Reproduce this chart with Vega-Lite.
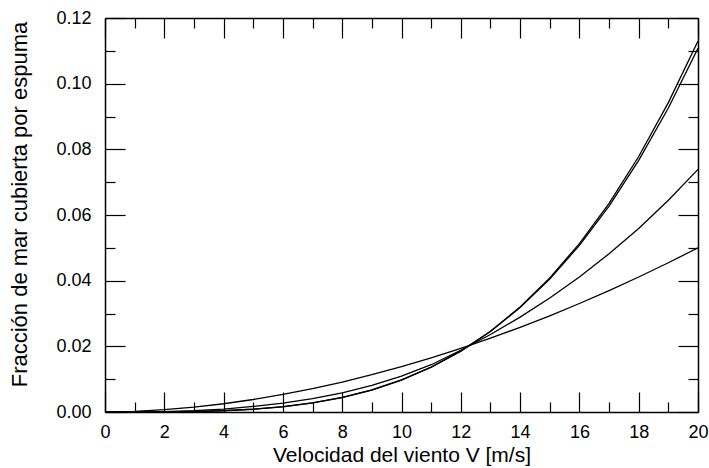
{
  "$schema": "https://vega.github.io/schema/vega-lite/v6.json",
  "width": 593,
  "height": 394,
  "autosize": "none",
  "padding": {"left": 105, "top": 18, "right": 11, "bottom": 56},
  "config": {
    "view": {"stroke": null},
    "font": "Liberation Sans",
    "axis": {
      "domainColor": "black", "domainWidth": 1.5, "tickColor": "black", "tickWidth": 1.2,
      "labelColor": "black", "labelFont": "Liberation Sans", "labelFontSize": 18,
      "titleColor": "black", "titleFont": "Liberation Sans", "titleFontSize": 22, "titleFontWeight": "normal",
      "grid": false
    }
  },
  "data": {"values": [
    {"V":0,"f":0,"c":"A"},{"V":1,"f":0.000003,"c":"A"},{"V":2,"f":0.000033,"c":"A"},{"V":3,"f":0.000137,"c":"A"},{"V":4,"f":0.000379,"c":"A"},{"V":5,"f":0.000835,"c":"A"},{"V":6,"f":0.001592,"c":"A"},{"V":7,"f":0.002749,"c":"A"},{"V":8,"f":0.004408,"c":"A"},{"V":9,"f":0.006691,"c":"A"},{"V":10,"f":0.009717,"c":"A"},{"V":11,"f":0.013618,"c":"A"},{"V":12,"f":0.018525,"c":"A"},{"V":13,"f":0.024592,"c":"A"},{"V":14,"f":0.031967,"c":"A"},{"V":15,"f":0.040809,"c":"A"},{"V":16,"f":0.051295,"c":"A"},{"V":17,"f":0.063566,"c":"A"},{"V":18,"f":0.077815,"c":"A"},{"V":19,"f":0.094235,"c":"A"},{"V":20,"f":0.113,"c":"A"},
    {"V":0,"f":0,"c":"B"},{"V":1,"f":0.000003,"c":"B"},{"V":2,"f":0.000035,"c":"B"},{"V":3,"f":0.000145,"c":"B"},{"V":4,"f":0.000396,"c":"B"},{"V":5,"f":0.000865,"c":"B"},{"V":6,"f":0.001638,"c":"B"},{"V":7,"f":0.002811,"c":"B"},{"V":8,"f":0.004485,"c":"B"},{"V":9,"f":0.006773,"c":"B"},{"V":10,"f":0.009794,"c":"B"},{"V":11,"f":0.013674,"c":"B"},{"V":12,"f":0.01854,"c":"B"},{"V":13,"f":0.024532,"c":"B"},{"V":14,"f":0.031792,"c":"B"},{"V":15,"f":0.040479,"c":"B"},{"V":16,"f":0.050746,"c":"B"},{"V":17,"f":0.062735,"c":"B"},{"V":18,"f":0.076616,"c":"B"},{"V":19,"f":0.092586,"c":"B"},{"V":20,"f":0.1108,"c":"B"},
    {"V":0,"f":0,"c":"C"},{"V":1,"f":0.00002,"c":"C"},{"V":2,"f":0.00013,"c":"C"},{"V":3,"f":0.0004,"c":"C"},{"V":4,"f":0.0009,"c":"C"},{"V":5,"f":0.0017,"c":"C"},{"V":6,"f":0.0027,"c":"C"},{"V":7,"f":0.0041,"c":"C"},{"V":8,"f":0.0058,"c":"C"},{"V":9,"f":0.0081,"c":"C"},{"V":10,"f":0.0109,"c":"C"},{"V":11,"f":0.0144,"c":"C"},{"V":12,"f":0.0188,"c":"C"},{"V":13,"f":0.0236,"c":"C"},{"V":14,"f":0.0289,"c":"C"},{"V":15,"f":0.0347,"c":"C"},{"V":16,"f":0.0411,"c":"C"},{"V":17,"f":0.0482,"c":"C"},{"V":18,"f":0.0559,"c":"C"},{"V":19,"f":0.0645,"c":"C"},{"V":20,"f":0.0739,"c":"C"},
    {"V":0,"f":0,"c":"D"},{"V":1,"f":0.000192,"c":"D"},{"V":2,"f":0.000695,"c":"D"},{"V":3,"f":0.001476,"c":"D"},{"V":4,"f":0.002517,"c":"D"},{"V":5,"f":0.003811,"c":"D"},{"V":6,"f":0.005345,"c":"D"},{"V":7,"f":0.007118,"c":"D"},{"V":8,"f":0.009119,"c":"D"},{"V":9,"f":0.01135,"c":"D"},{"V":10,"f":0.013803,"c":"D"},{"V":11,"f":0.016476,"c":"D"},{"V":12,"f":0.019364,"c":"D"},{"V":13,"f":0.022466,"c":"D"},{"V":14,"f":0.025782,"c":"D"},{"V":15,"f":0.029303,"c":"D"},{"V":16,"f":0.03304,"c":"D"},{"V":17,"f":0.036975,"c":"D"},{"V":18,"f":0.041113,"c":"D"},{"V":19,"f":0.045456,"c":"D"},{"V":20,"f":0.05,"c":"D"}
  ]},
  "resolve": {"axis": {"x": "independent", "y": "independent"}},
  "layer": [
    {
      "mark": {"type": "line", "color": "black", "strokeWidth": 1.3, "clip": true},
      "encoding": {
        "x": {"field": "V", "type": "quantitative", "scale": {"domain": [0, 20], "nice": false},
          "axis": {"orient": "bottom", "title": "Velocidad del viento V [m/s]",
            "values": [0,1,2,3,4,5,6,7,8,9,10,11,12,13,14,15,16,17,18,19,20],
            "labelExpr": "datum.value % 2 === 0 ? datum.label : ''",
            "tickSize": {"condition": {"test": "datum.value % 2 === 0", "value": -20}, "value": -10},
            "labelPadding": 31, "titlePadding": 3, "titleFontSize": 21, "labelFlush": false}},
        "y": {"field": "f", "type": "quantitative", "scale": {"domain": [0, 0.12], "nice": false},
          "axis": {"orient": "left", "title": "Fracción de mar cubierta por espuma",
            "values": [0,0.01,0.02,0.03,0.04,0.05,0.06,0.07,0.08,0.09,0.1,0.11,0.12],
            "labelExpr": "round(datum.value*100) % 2 === 0 ? format(datum.value, '.2f') : ''",
            "tickSize": {"condition": {"test": "round(datum.value*100) % 2 === 0", "value": -20}, "value": -10},
            "labelPadding": 34, "titlePadding": 24, "titleY": 186, "labelFlush": false}},
        "detail": {"field": "c", "type": "nominal"}
      }
    },
    {
      "mark": {"type": "line", "color": "black", "strokeOpacity": 0},
      "encoding": {
        "x": {"field": "V", "type": "quantitative", "scale": {"domain": [0, 20], "nice": false},
          "axis": {"orient": "top", "title": null, "labels": false,
            "values": [0,1,2,3,4,5,6,7,8,9,10,11,12,13,14,15,16,17,18,19,20],
            "tickSize": {"condition": {"test": "datum.value % 2 === 0", "value": -20}, "value": -10}}},
        "y": {"field": "f", "type": "quantitative", "scale": {"domain": [0, 0.12], "nice": false},
          "axis": {"orient": "right", "title": null, "labels": false,
            "values": [0,0.01,0.02,0.03,0.04,0.05,0.06,0.07,0.08,0.09,0.1,0.11,0.12],
            "tickSize": {"condition": {"test": "round(datum.value*100) % 2 === 0", "value": -20}, "value": -10}}},
        "detail": {"field": "c", "type": "nominal"}
      }
    }
  ]
}
